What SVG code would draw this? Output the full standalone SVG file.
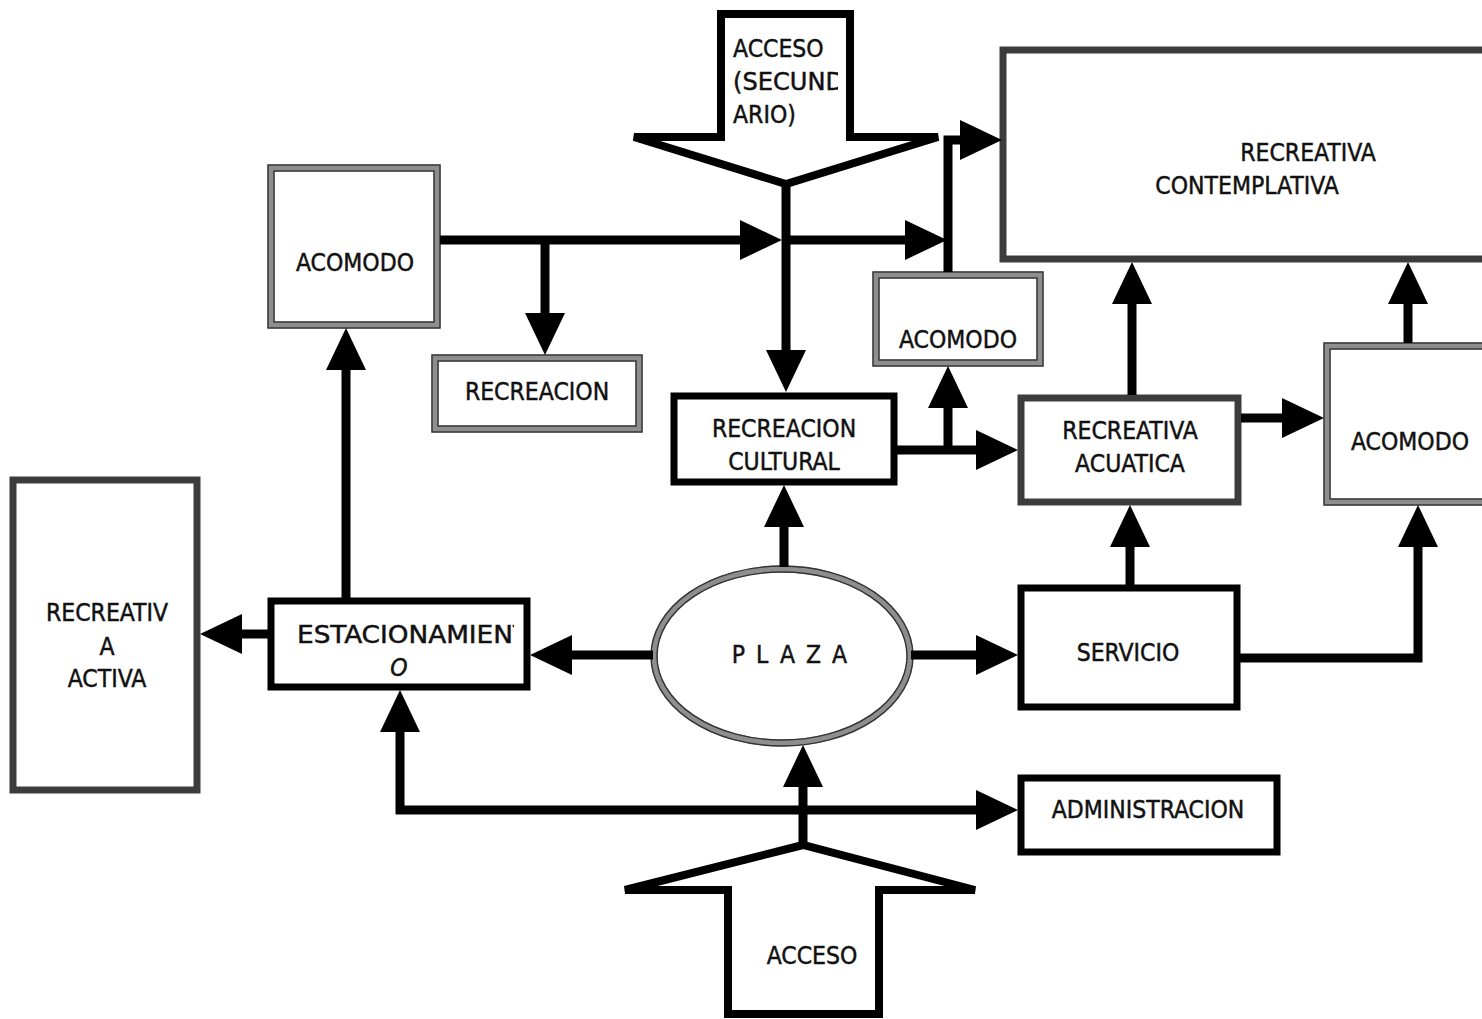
<svg xmlns="http://www.w3.org/2000/svg" width="1482" height="1019" viewBox="0 0 1482 1019">
<style>
text{font-family:"DejaVu Sans Condensed","DejaVu Sans","Liberation Sans",sans-serif;font-size:24.5px;fill:#111;stroke:#111;stroke-width:0.45}
.m{text-anchor:middle}
.gb{fill:#fff;stroke:#8e8e8e;stroke-width:7}
.gl{fill:none;stroke:#333;stroke-width:1.4}
.db{fill:#fff;stroke:#3c3c3c;stroke-width:7}
.bb{fill:#fff;stroke:#000;stroke-width:7}
.ba{fill:#fff;stroke:#000;stroke-width:8;stroke-linejoin:miter}
.c{fill:none;stroke:#000;stroke-width:9;marker-end:url(#ah)}
</style>
<defs>
<marker id="ah" markerUnits="userSpaceOnUse" markerWidth="42" markerHeight="40" viewBox="0 0 42 40" refX="1" refY="20" orient="auto"><path d="M0,0 L42,20 L0,40z" fill="#000"/></marker>
<clipPath id="cpAcc"><rect x="722" y="15" width="116" height="125"/></clipPath>
<clipPath id="cpEst"><rect x="272" y="602" width="242" height="84"/></clipPath>
</defs>
<rect width="1482" height="1019" fill="#fff"/>

<g id="acceso-secundario">
<polygon class="ba" points="721,14 850,14 850,137 938,137 786,184 634,137 721,137"/>
<g clip-path="url(#cpAcc)">
<text x="733" y="57">ACCESO</text>
<text x="733" y="90" textLength="111" lengthAdjust="spacingAndGlyphs">(SECUND</text>
<text x="733" y="123">ARIO)</text>
</g>
</g>

<g id="acceso">
<polygon class="ba" points="728,1014 728,890 625,890 803,845 975,890 879,890 879,1014"/>
<text x="812" y="964" class="m">ACCESO</text>
</g>

<g id="acomodo-1">
<rect class="gb" x="271" y="168" width="166" height="157"/>
<rect class="gl" x="268" y="165" width="172" height="163"/>
<rect class="gl" x="274" y="171" width="160" height="151"/>
<text x="355" y="271" class="m">ACOMODO</text>
</g>

<g id="recreacion">
<rect class="gb" x="435" y="358" width="204" height="71"/>
<rect class="gl" x="432" y="355" width="210" height="77"/>
<rect class="gl" x="438" y="361" width="198" height="65"/>
<text x="537" y="400" class="m">RECREACION</text>
</g>

<g id="recreacion-cultural">
<rect class="bb" x="674" y="396" width="220" height="86"/>
<text x="784" y="437" class="m">RECREACION</text>
<text x="784" y="470" class="m">CULTURAL</text>
</g>

<g id="acomodo-2">
<rect class="gb" x="876" y="275" width="164" height="88"/>
<rect class="gl" x="873" y="272" width="170" height="94"/>
<rect class="gl" x="879" y="278" width="158" height="82"/>
<text x="958" y="348" class="m">ACOMODO</text>
</g>

<g id="recreativa-contemplativa">
<rect class="db" x="1003" y="50" width="490" height="209"/>
<text x="1308" y="161" class="m">RECREATIVA</text>
<text x="1247" y="194" class="m">CONTEMPLATIVA</text>
</g>

<g id="recreativa-acuatica">
<rect class="db" x="1021" y="398" width="217" height="104"/>
<text x="1130" y="439" class="m">RECREATIVA</text>
<text x="1130" y="472" class="m">ACUATICA</text>
</g>

<g id="acomodo-3">
<rect class="gb" x="1327" y="346" width="170" height="156"/>
<rect class="gl" x="1324" y="343" width="176" height="162"/>
<rect class="gl" x="1330" y="349" width="164" height="150"/>
<text x="1410" y="450" class="m">ACOMODO</text>
</g>

<g id="recreativa-activa">
<rect class="db" x="13" y="480" width="184" height="310"/>
<text x="107" y="621" class="m">RECREATIV</text>
<text x="107" y="655" class="m">A</text>
<text x="107" y="687" class="m">ACTIVA</text>
</g>

<g id="estacionamiento">
<rect class="bb" x="271" y="601" width="256" height="86"/>
<g clip-path="url(#cpEst)">
<text x="297" y="643" textLength="232" lengthAdjust="spacingAndGlyphs">ESTACIONAMIENT</text>
</g>
<text x="399" y="676" class="m" font-style="italic">O</text>
</g>

<g id="plaza">
<ellipse cx="782" cy="656" rx="128" ry="87" fill="#fff" stroke="#8e8e8e" stroke-width="7"/>
<ellipse cx="782" cy="656" rx="131" ry="90" fill="none" stroke="#333" stroke-width="1.4"/>
<ellipse cx="782" cy="656" rx="125" ry="84" fill="none" stroke="#333" stroke-width="1.4"/>
<text x="795" y="663" class="m" letter-spacing="11">PLAZA</text>
</g>

<g id="servicio">
<rect class="bb" x="1021" y="588" width="216" height="119"/>
<text x="1128" y="661" class="m">SERVICIO</text>
</g>

<g id="administracion">
<rect class="bb" x="1021" y="778" width="256" height="74"/>
<text x="1148" y="818" class="m">ADMINISTRACION</text>
</g>

<g id="connectors">
<path class="c" d="M440,240 H741"/>
<path class="c" d="M782,240 H906"/>
<path class="c" d="M545,240 V314"/>
<path class="c" d="M786,185 V351"/>
<path class="c" d="M948,272 V140 H961"/>
<path class="c" d="M897,450 H977"/>
<path class="c" d="M948,450 V407"/>
<path class="c" d="M1132,395 V303"/>
<path class="c" d="M1241,418 H1283"/>
<path class="c" d="M1408,343 V303"/>
<path class="c" d="M1130,585 V546"/>
<path class="c" d="M1240,658 H1418 V546"/>
<path class="c" d="M784,567 V526"/>
<path class="c" d="M911,655 H977"/>
<path class="c" d="M653,655 H571"/>
<path class="c" d="M268,634 H241"/>
<path class="c" d="M346,598 V369"/>
<path class="c" d="M803,845 V786"/>
<path class="c" d="M396,810 H977"/>
<path class="c" d="M400,814 V731"/>
</g>
</svg>
